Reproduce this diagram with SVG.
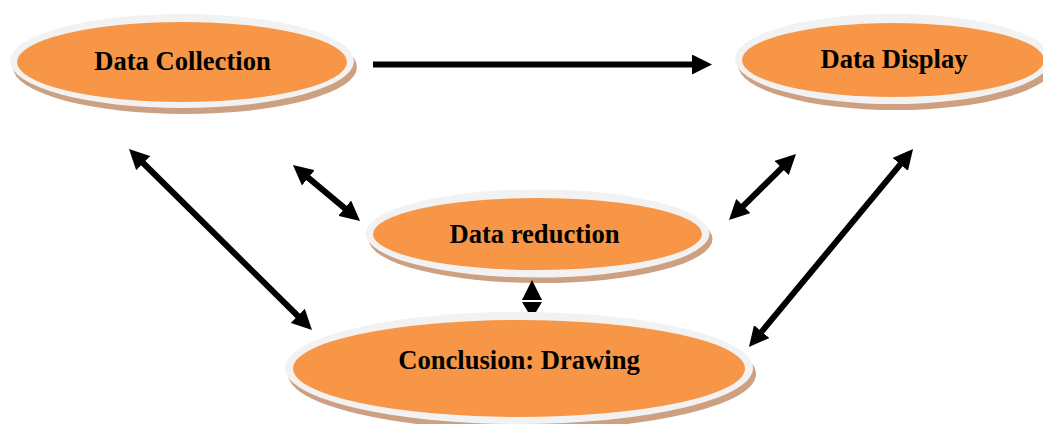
<svg xmlns="http://www.w3.org/2000/svg" width="1043" height="424" viewBox="0 0 1043 424">
<defs>
<style>
.shadow{fill:#CDA082}
.ring{fill:#F2F2F2}
.core{fill:#F79646}
.lbl{font-family:"Liberation Serif","Times New Roman",serif;font-weight:bold;font-size:26.6px;fill:#000;text-anchor:middle}
.conn{stroke:#000;stroke-width:6;fill:none}
</style>
<marker id="ah" viewBox="0 0 20 20" refX="3" refY="10" markerWidth="20" markerHeight="20" markerUnits="userSpaceOnUse" orient="auto-start-reverse">
<path d="M0,0 L20,10 L0,20 z" fill="#000"/>
</marker>
</defs>
<rect width="1043" height="424" fill="#fff"/>
<g id="node-data-collection">
<ellipse class="shadow" cx="185" cy="67" rx="172" ry="47"/>
<ellipse class="ring" cx="182" cy="61" rx="172" ry="47"/>
<ellipse class="core" cx="182" cy="62" rx="165" ry="40"/>
<text class="lbl" x="182.5" y="70">Data Collection</text>
</g>
<g id="node-data-display">
<ellipse class="shadow" cx="896" cy="65" rx="158" ry="45"/>
<ellipse class="ring" cx="893" cy="59" rx="158" ry="45"/>
<ellipse class="core" cx="893" cy="60" rx="151" ry="37"/>
<text class="lbl" x="894" y="68">Data Display</text>
</g>
<g id="node-data-reduction">
<ellipse class="shadow" cx="540.5" cy="239" rx="172" ry="44"/>
<ellipse class="ring" cx="537.5" cy="233.5" rx="172" ry="44"/>
<ellipse class="core" cx="537.5" cy="234" rx="164.5" ry="36"/>
<text class="lbl" x="534.5" y="243">Data reduction</text>
</g>
<g id="node-conclusion">
<ellipse class="shadow" cx="522" cy="374" rx="234" ry="56"/>
<ellipse class="ring" cx="519" cy="368" rx="234" ry="56"/>
<ellipse class="core" cx="519" cy="368.5" rx="226" ry="48.5"/>
<text class="lbl" x="519" y="369">Conclusion: Drawing</text>
</g>
<g id="connectors">
<line class="conn" x1="373" y1="64.5" x2="695" y2="64.5" marker-end="url(#ah)"/>
<line class="conn" x1="141.1" y1="161" x2="299.9" y2="318" marker-start="url(#ah)" marker-end="url(#ah)"/>
<line class="conn" x1="306" y1="175.9" x2="347" y2="210.1" marker-start="url(#ah)" marker-end="url(#ah)"/>
<line class="conn" x1="783.9" y1="165.9" x2="741.1" y2="208.1" marker-start="url(#ah)" marker-end="url(#ah)"/>
<line class="conn" x1="902.2" y1="162.1" x2="759.8" y2="333.9" marker-start="url(#ah)" marker-end="url(#ah)"/>
<path d="M522,300 L532,280 L542,300 z" fill="#000"/>
<path d="M522,302 L542,302 L536,312 L528,312 z" fill="#000"/>
</g>
</svg>
